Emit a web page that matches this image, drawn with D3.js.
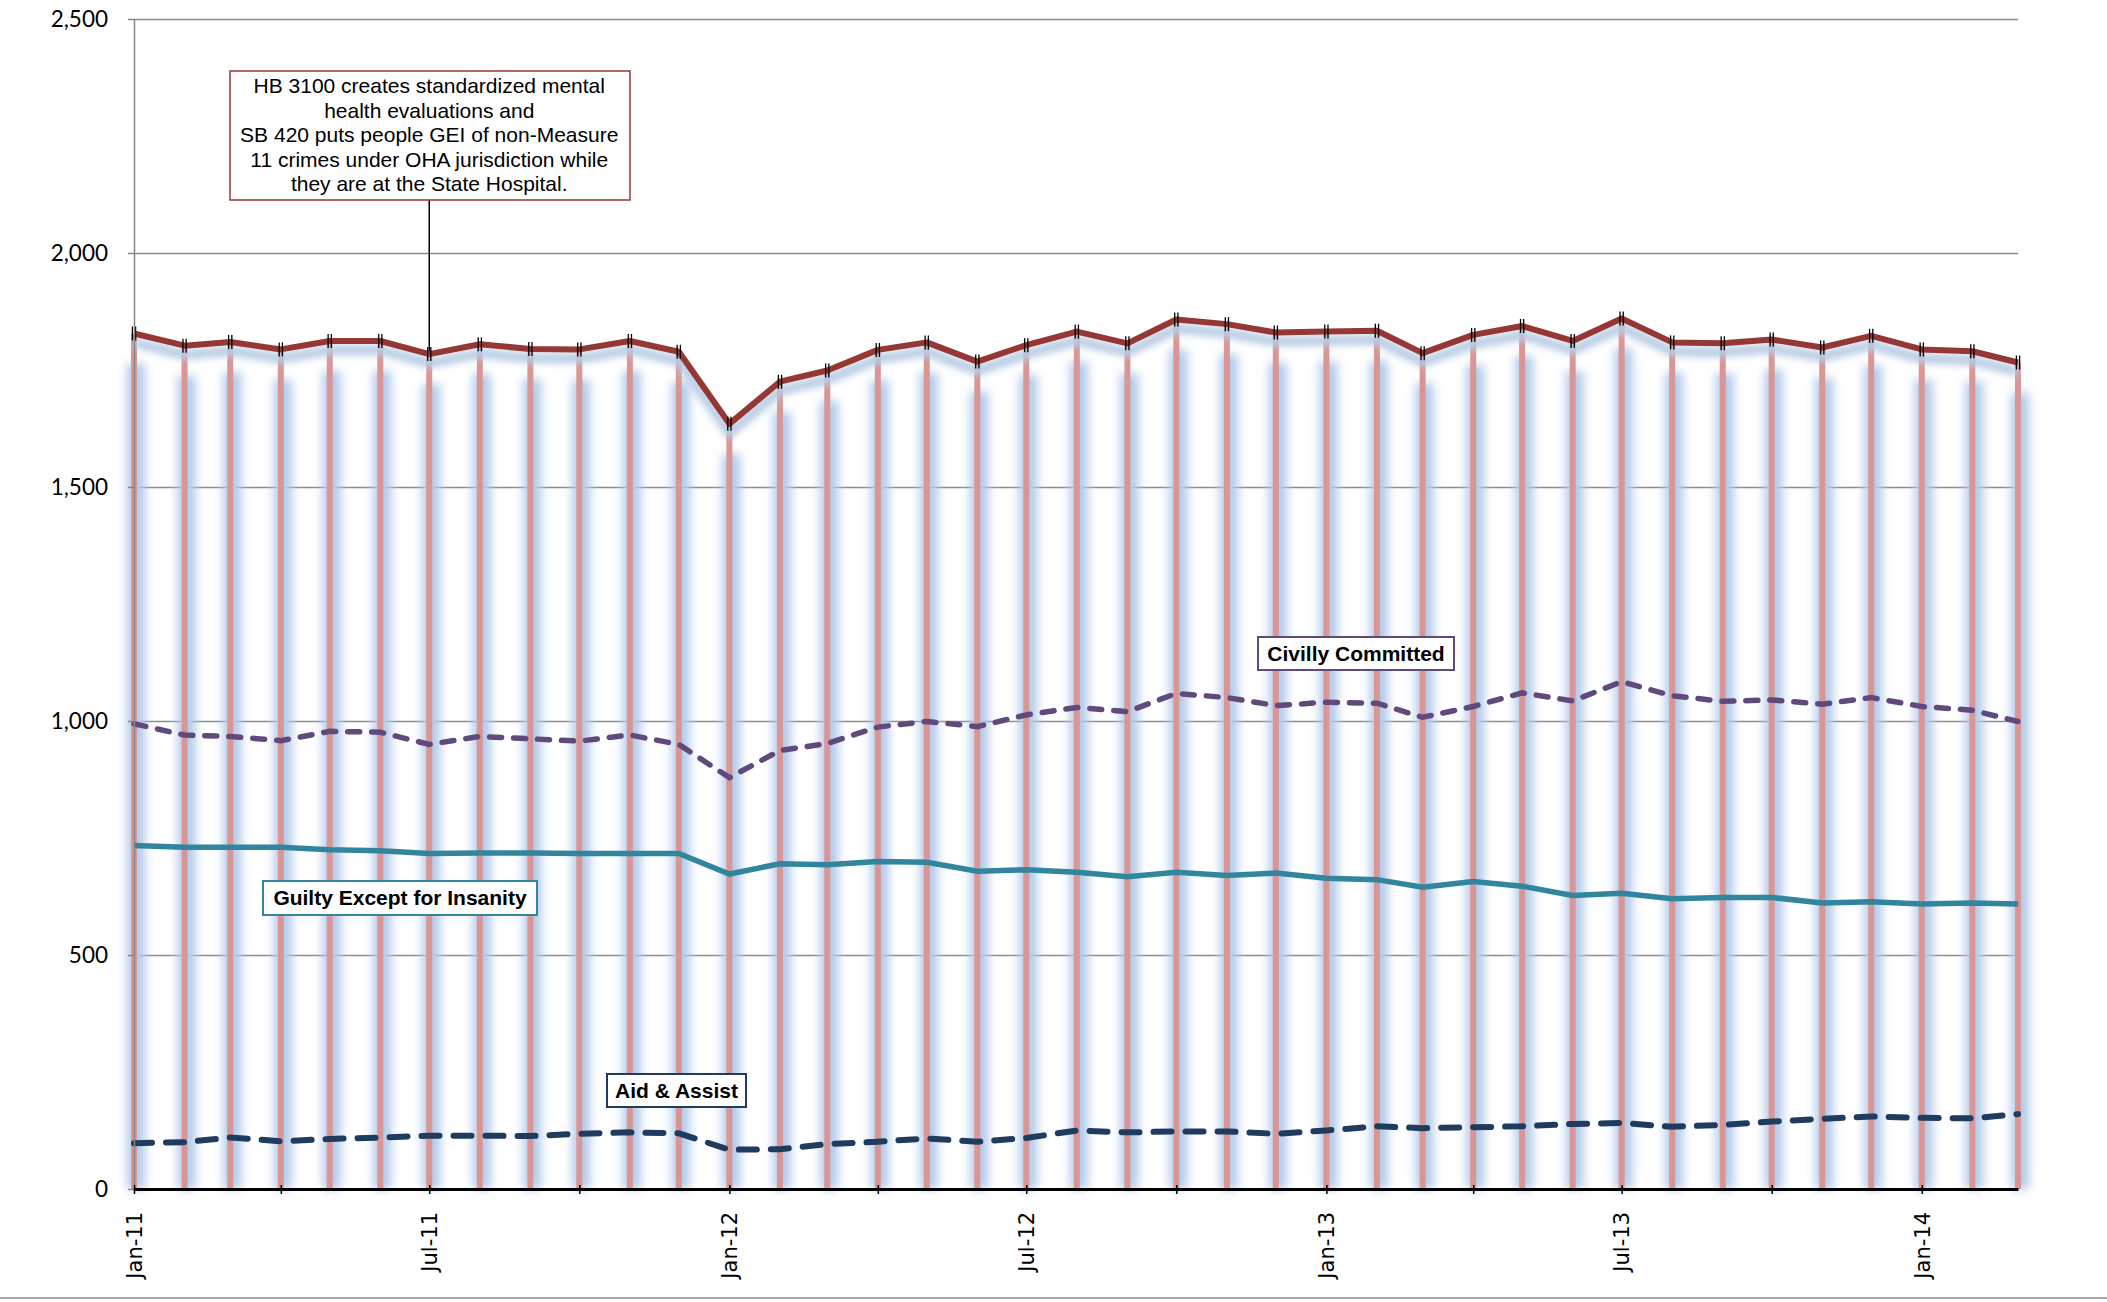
<!DOCTYPE html>
<html>
<head>
<meta charset="utf-8">
<script src="https://cdn.jsdelivr.net/npm/d3@7"></script>
<style>
  body { margin: 0; background: #fff; }
  svg { display: block; }
</style>
</head>
<body>
<div id="chart"></div>
<script>
// months Jan-11 .. Mar-14
const months = ["Jan-11","Feb-11","Mar-11","Apr-11","May-11","Jun-11","Jul-11","Aug-11","Sep-11","Oct-11","Nov-11","Dec-11",
  "Jan-12","Feb-12","Mar-12","Apr-12","May-12","Jun-12","Jul-12","Aug-12","Sep-12","Oct-12","Nov-12","Dec-12",
  "Jan-13","Feb-13","Mar-13","Apr-13","May-13","Jun-13","Jul-13","Aug-13","Sep-13","Oct-13","Nov-13","Dec-13",
  "Jan-14","Feb-14","Mar-14"];

const total = [1828,1802,1810,1794,1812,1812,1784,1805,1795,1794,1812,1789,
  1635,1725,1749,1793,1809,1768,1803,1832,1807,1858,1848,1830,
  1832,1834,1786,1825,1844,1812,1860,1809,1807,1815,1798,1823,
  1794,1790,1766];

const civil = [994,970,967,958,978,976,950,967,962,957,970,950,
  879,937,952,987,999,988,1013,1029,1020,1059,1050,1033,
  1040,1038,1008,1031,1060,1043,1084,1054,1042,1045,1036,1050,
  1031,1023,999];

const gei = [734,730,730,730,725,723,717,718,718,717,717,717,
  673,695,693,700,698,679,682,677,667,677,670,675,
  664,661,645,657,647,627,632,620,623,623,611,614,
  609,611,609];

const aid = [98,100,110,102,107,110,114,114,113,118,121,119,
  84,85,96,101,108,101,109,125,121,123,123,118,
  125,134,130,132,134,139,141,133,137,144,150,155,
  152,151,160];

const yTicks = [0,500,1000,1500,2000,2500];
const xLabelMonths = ["Jan-11","Jul-11","Jan-12","Jul-12","Jan-13","Jul-13","Jan-14"];

const noteLines = ["HB 3100 creates standardized mental","health evaluations and",
  "SB 420 puts people GEI of non-Measure","11 crimes under OHA jurisdiction while",
  "they are at the State Hospital."];
const noteMonth = "Jul-11";

const W = 2107, H = 1302;
const plotL = 134, plotR = 2018, plotT = 19, plotB = 1189;

const parse = d3.timeParse("%b-%y");
const fmt = d3.timeFormat("%b-%y");
const dates = months.map(parse);

const x = d3.scaleTime().domain([dates[0], dates[dates.length - 1]]).range([plotL, plotR]);
const y = d3.scaleLinear().domain([0, 2500]).range([plotB, plotT]);

const svg = d3.select("#chart").append("svg")
  .attr("width", W).attr("height", H)
  .style("background", "#fff");

const defs = svg.append("defs");
defs.append("filter").attr("id", "glow")
  .attr("filterUnits", "userSpaceOnUse")
  .attr("x", 0).attr("y", 0).attr("width", W).attr("height", H)
  .append("feGaussianBlur").attr("stdDeviation", 5);
defs.append("filter").attr("id", "shadow")
  .attr("filterUnits", "userSpaceOnUse")
  .attr("x", 0).attr("y", 0).attr("width", W).attr("height", H)
  .append("feGaussianBlur").attr("stdDeviation", 3.5);

// gridlines
svg.append("g")
  .attr("transform", `translate(${plotL},0)`)
  .call(d3.axisLeft(y).tickValues(yTicks.filter(d => d > 0)).tickSize(-(plotR - plotL)).tickFormat(""))
  .call(g => g.select(".domain").remove())
  .call(g => g.selectAll("line").attr("stroke", "#8c8c8c").attr("stroke-width", 1.5));

// bars with blue halo
const idx = d3.range(months.length);
svg.append("g").attr("filter", "url(#glow)")
  .selectAll("line").data(idx).join("line")
  .attr("x1", i => x(dates[i]) + 2).attr("x2", i => x(dates[i]) + 2)
  .attr("y1", i => y(total[i]) + 30).attr("y2", y(0))
  .attr("stroke", "#b3caea").attr("stroke-width", 18);

svg.append("g")
  .selectAll("line").data(idx).join("line")
  .attr("x1", i => x(dates[i])).attr("x2", i => x(dates[i]))
  .attr("y1", i => y(total[i])).attr("y2", y(0))
  .attr("stroke", "#d99694").attr("stroke-width", 6);

const line = arr => d3.line().x((d, i) => x(dates[i])).y(d => y(d))(arr);

// total line shadow + line
svg.append("path").attr("d", line(total))
  .attr("transform", "translate(0,9)")
  .attr("fill", "none").attr("stroke", "#b8cce4").attr("stroke-width", 10)
  .attr("filter", "url(#shadow)");

// annotation connector
const nx = x(parse(noteMonth));
svg.append("line")
  .attr("x1", nx).attr("x2", nx)
  .attr("y1", 200).attr("y2", y(total[months.indexOf(noteMonth)]))
  .attr("stroke", "#000").attr("stroke-width", 1.5);

svg.append("path").attr("d", line(total))
  .attr("fill", "none").attr("stroke", "#953735").attr("stroke-width", 6)
  .attr("stroke-linejoin", "round");

// small black markers on total points
const mk = svg.append("g").attr("stroke", "#000").attr("stroke-width", 1.3);
idx.forEach(i => {
  [-1.6, 1.6].forEach(o => {
    mk.append("line")
      .attr("x1", x(dates[i]) + o).attr("x2", x(dates[i]) + o)
      .attr("y1", y(total[i]) - 7).attr("y2", y(total[i]) + 7);
  });
});

// other series
svg.append("path").attr("d", line(civil))
  .attr("fill", "none").attr("stroke", "#604a7b").attr("stroke-width", 5.5)
  .attr("stroke-dasharray", "12,12").attr("stroke-linecap", "round");

svg.append("path").attr("d", line(gei))
  .attr("fill", "none").attr("stroke", "#31859c").attr("stroke-width", 5.5);

svg.append("path").attr("d", line(aid))
  .attr("fill", "none").attr("stroke", "#1f3b5e").attr("stroke-width", 6)
  .attr("stroke-dasharray", "18,14").attr("stroke-linecap", "round");

// y axis
svg.append("g")
  .attr("transform", `translate(${plotL},0)`)
  .call(d3.axisLeft(y).tickValues(yTicks).tickSize(6).tickSizeOuter(0).tickFormat(d3.format(",")))
  .call(g => g.select(".domain").attr("stroke", "#868686").attr("stroke-width", 1.5))
  .call(g => g.selectAll(".tick line").attr("stroke", "#868686").attr("stroke-width", 1.5))
  .call(g => g.selectAll("text").attr("x", -26)
    .style("font-family", "Lato, 'Open Sans', sans-serif").style("font-size", "22.5px").attr("fill", "#000"));

// x axis
svg.append("g")
  .attr("transform", `translate(0,${plotB})`)
  .call(d3.axisBottom(x).ticks(d3.timeMonth.every(3)).tickSize(5).tickSizeOuter(0)
    .tickFormat(d => xLabelMonths.includes(fmt(d)) ? fmt(d) : ""))
  .call(g => g.select(".domain").attr("stroke", "#000").attr("stroke-width", 3))
  .call(g => g.selectAll(".tick line").attr("y1", -4).attr("stroke", "#000").attr("stroke-width", 1.5))
  .call(g => g.selectAll("text")
    .attr("transform", "rotate(-90)")
    .attr("text-anchor", "end").attr("x", -23).attr("y", 0).attr("dy", "0.35em")
    .style("font-family", "'DejaVu Sans', Verdana, sans-serif").style("font-size", "21px").attr("fill", "#000"));

// bottom border
svg.append("line").attr("x1", 0).attr("x2", W).attr("y1", 1298).attr("y2", 1298)
  .attr("stroke", "#a6a6a6").attr("stroke-width", 2);

// annotation box
const narrow = "'Liberation Sans Narrow', 'Arial Narrow', 'Liberation Sans', Arial, sans-serif";
svg.append("rect").attr("x", 230).attr("y", 71).attr("width", 400).attr("height", 129)
  .attr("fill", "#fff").attr("stroke", "#953735").attr("stroke-width", 1.5);
const noteWidths = [356, 214, 383, 364, 282];
noteLines.forEach((t, i) => {
  const el = svg.append("text")
    .attr("x", nx).attr("y", 86 + i * 24.5).attr("dy", "0.35em")
    .attr("text-anchor", "middle")
    .style("font-family", narrow).style("font-size", "21px").attr("fill", "#000")
    .text(t);
  if (el.node().getComputedTextLength() > noteWidths[i] + 4)
    el.attr("textLength", noteWidths[i]).attr("lengthAdjust", "spacingAndGlyphs");
});

// series labels
const labels = [
  {text: "Civilly Committed", x: 1258, y: 637, w: 196, h: 33, tw: 179, color: "#604a7b"},
  {text: "Guilty Except for Insanity", x: 263, y: 881, w: 274, h: 34, tw: 257, color: "#31859c"},
  {text: "Aid & Assist", x: 607, y: 1074, w: 139, h: 33, tw: 124, color: "#1f3b5e"}
];
labels.forEach(l => {
  svg.append("rect").attr("x", l.x).attr("y", l.y).attr("width", l.w).attr("height", l.h)
    .attr("fill", "#fff").attr("stroke", l.color).attr("stroke-width", 2);
  const el = svg.append("text")
    .attr("x", l.x + l.w / 2).attr("y", l.y + l.h / 2).attr("dy", "0.35em")
    .attr("text-anchor", "middle")
    .style("font-family", narrow).style("font-weight", "bold").style("font-size", "21px")
    .attr("fill", "#000").text(l.text);
  if (el.node().getComputedTextLength() > l.tw + 4)
    el.attr("textLength", l.tw).attr("lengthAdjust", "spacingAndGlyphs");
});
</script>
</body>
</html>
